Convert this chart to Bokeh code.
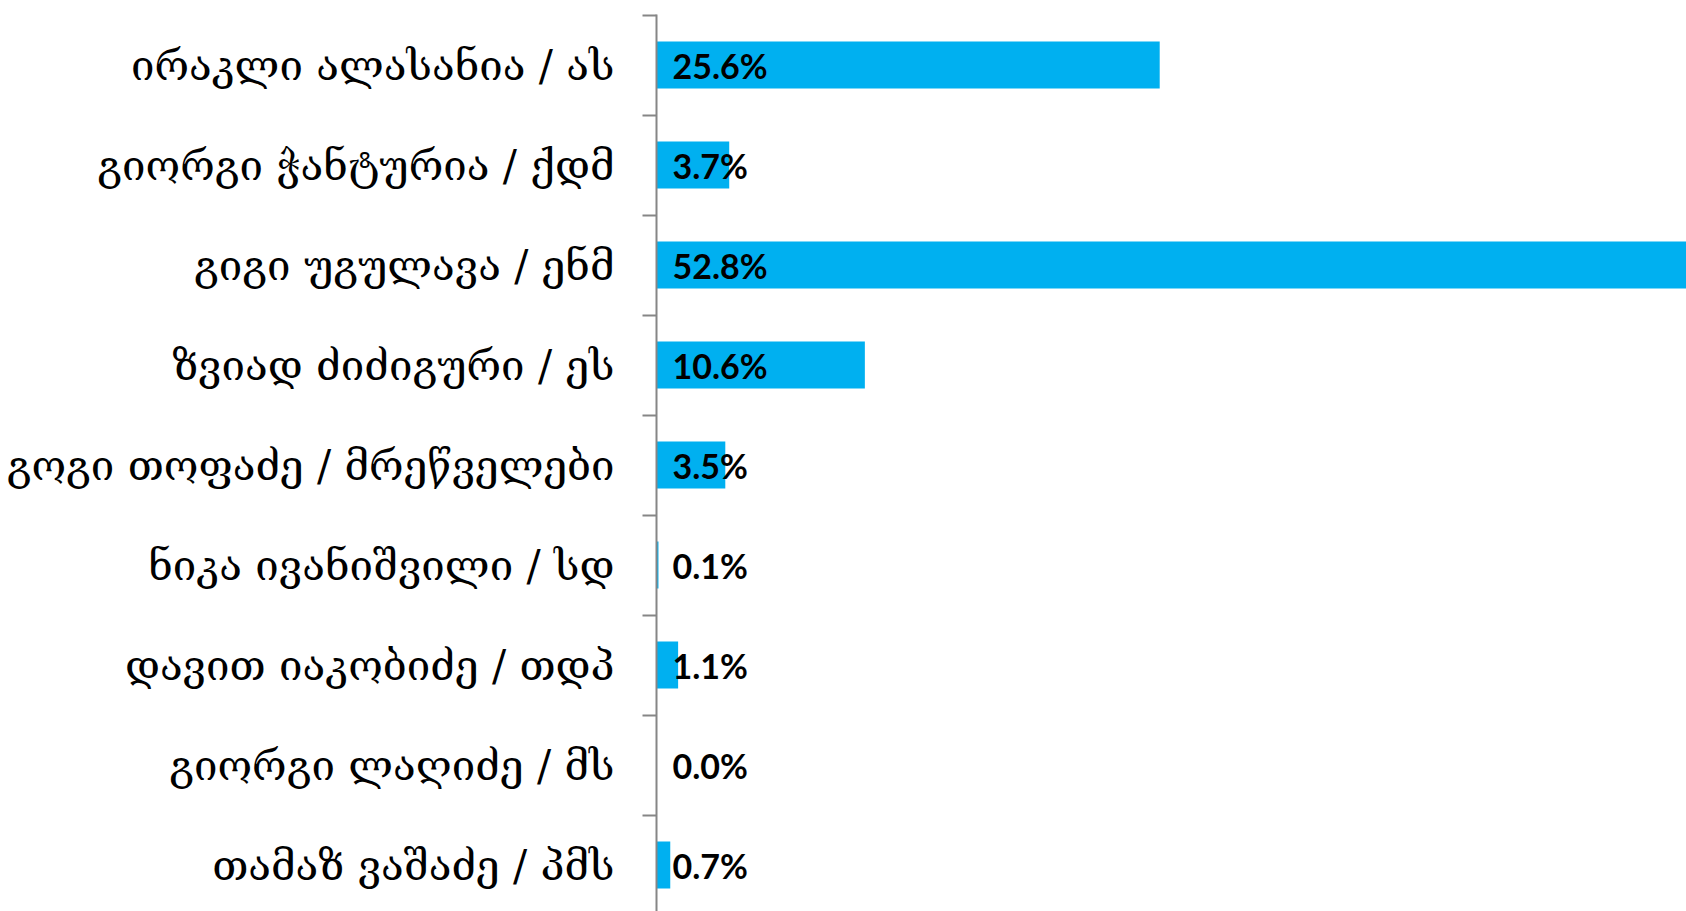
from bokeh.plotting import figure
from bokeh.models import ColumnDataSource, Range1d, FixedTicker
from bokeh.core.properties import value
from bokeh.embed import file_html
from bokeh.resources import INLINE

categories = [
    "ირაკლი ალასანია / ას",
    "გიორგი ჭანტურია / ქდმ",
    "გიგი უგულავა / ენმ",
    "ზვიად ძიძიგური / ეს",
    "გოგი თოფაძე / მრეწველები",
    "ნიკა ივანიშვილი / სდ",
    "დავით იაკობიძე / თდპ",
    "გიორგი ლაღიძე / მს",
    "თამაზ ვაშაძე / პმს",
]
values = [25.6, 3.7, 52.8, 10.6, 3.5, 0.1, 1.1, 0.0, 0.7]
labels = [f"{v:.1f}%" for v in values]

n = len(categories)
centers = [n - i - 0.5 for i in range(n)]
boundaries = list(range(n + 1))

src = ColumnDataSource(dict(y=centers, v=values, lab=labels, zero=[0] * n))

p = figure(width=1686, height=911, output_backend="svg", toolbar_location=None,
           x_range=Range1d(0, 52.4), y_range=Range1d(0.035, 9.005),
           x_axis_location=None, min_border_top=14, min_border_bottom=0,
           min_border_right=0, min_border_left=656)
p.outline_line_color = None
p.xgrid.grid_line_color = None
p.ygrid.grid_line_color = None

p.hbar(y="y", left=0, right="v", height=0.47, source=src,
       fill_color="#00B0F0", line_color=None)
p.text(x="zero", y="y", text="lab", source=src, x_offset=16,
       text_baseline="middle", text_align="left",
       text_font=value("Lato"), text_font_style="bold",
       text_font_size="34px", text_color="black")

ax = p.yaxis[0]
ax.ticker = FixedTicker(ticks=centers, minor_ticks=boundaries)
ax.major_label_overrides = {c: name for c, name in zip(centers, categories)}
ax.major_tick_out = 0
ax.major_tick_in = 0
ax.minor_tick_out = 14
ax.minor_tick_in = 0
ax.minor_tick_line_color = "#868686"
ax.minor_tick_line_width = 2
ax.axis_line_color = "#868686"
ax.axis_line_width = 2
ax.major_label_standoff = 28
ax.major_label_text_font = "DejaVu Serif"
ax.major_label_text_font_size = "42px"
ax.major_label_text_color = "black"

open("out.html", "w").write(file_html(p, INLINE))
